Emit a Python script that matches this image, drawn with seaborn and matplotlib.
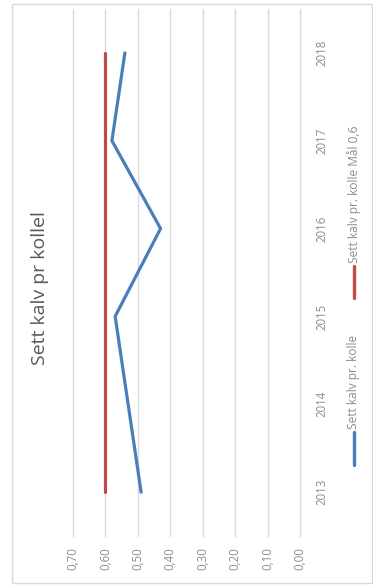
import matplotlib
matplotlib.use("Agg")
import matplotlib.pyplot as plt
import seaborn as sns
import pandas as pd
from matplotlib.patches import Rectangle

years = [2013, 2014, 2015, 2016, 2017, 2018]
sett_kalv = [0.49, 0.53, 0.57, 0.43, 0.58, 0.54]
maal = [0.60, 0.60, 0.60, 0.60, 0.60, 0.60]
value_ticks = [0.70, 0.60, 0.50, 0.40, 0.30, 0.20, 0.10, 0.00]
value_labels = ["0,70", "0,60", "0,50", "0,40", "0,30", "0,20", "0,10", "0,00"]
title = "Sett kalv pr kollel"
series_names = ["Sett kalv pr. kolle", "Sett kalv pr. kolle Mål 0,6"]

sns.set_style("white")
plt.rcParams['font.family'] = ['Open Sans', 'DejaVu Sans']

fig = plt.figure(figsize=(3.73, 5.86), dpi=100)
W, H = 373, 586
# outer chart border
fig.patches.append(Rectangle((12 / W, (H - 583) / H), (372 - 12) / W, (583 - 4) / H,
                             transform=fig.transFigure, fill=False,
                             edgecolor="#D9D9D9", linewidth=1.0))

ax = fig.add_axes([73 / W, (H - 536) / H, 227 / W, 527 / H])
df1 = pd.DataFrame({"value": sett_kalv, "year": years})
df2 = pd.DataFrame({"value": maal, "year": years})
sns.lineplot(data=df1, x="value", y="year", orient="y", sort=False,
             color="#4A7EBB", linewidth=2.3, ax=ax)
sns.lineplot(data=df2, x="value", y="year", orient="y", sort=False,
             color="#BE4B48", linewidth=2.3, ax=ax)

ax.set_xlim(0.70, 0.00)
ax.set_ylim(2012.5, 2018.5)
ax.set_xticks(value_ticks)
ax.set_xticklabels(value_labels, rotation=90, color="#8C8C8C", fontsize=8.3)
ax.set_yticks(years)
ax.set_yticklabels([str(y) for y in years], rotation=90, color="#8C8C8C",
                   fontsize=8.3, va="center")
ax.yaxis.tick_right()
ax.tick_params(axis="x", length=0, pad=8)
ax.tick_params(axis="y", length=0, pad=11)
ax.grid(axis="x", color="#D9D9D9", linewidth=1.0)
ax.grid(axis="y", visible=False)
for gl in ax.get_xgridlines():
    gl.set_clip_on(False)
for s in ax.spines.values():
    s.set_visible(False)
ax.set_xlabel("")
ax.set_ylabel("")

# title (rotated)
fig.text(40 / W, 1 - 288 / H, title, rotation=90, ha="center", va="center",
         fontsize=14, color="#595959")

# legend (rotated)
lx = 354 / W
fig.add_artist(plt.Line2D([lx, lx], [1 - 465 / H, 1 - 432 / H], color="#4A7EBB",
                          linewidth=2.4, transform=fig.transFigure))
fig.text(lx, 1 - 429 / H, series_names[0], rotation=90, ha="center", va="bottom",
         fontsize=8.6, color="#8C8C8C")
fig.add_artist(plt.Line2D([lx, lx], [1 - 298 / H, 1 - 266 / H], color="#BE4B48",
                          linewidth=2.4, transform=fig.transFigure))
fig.text(lx, 1 - 263 / H, series_names[1], rotation=90, ha="center", va="bottom",
         fontsize=8.6, color="#8C8C8C")

fig.savefig("out.png", dpi=100)
